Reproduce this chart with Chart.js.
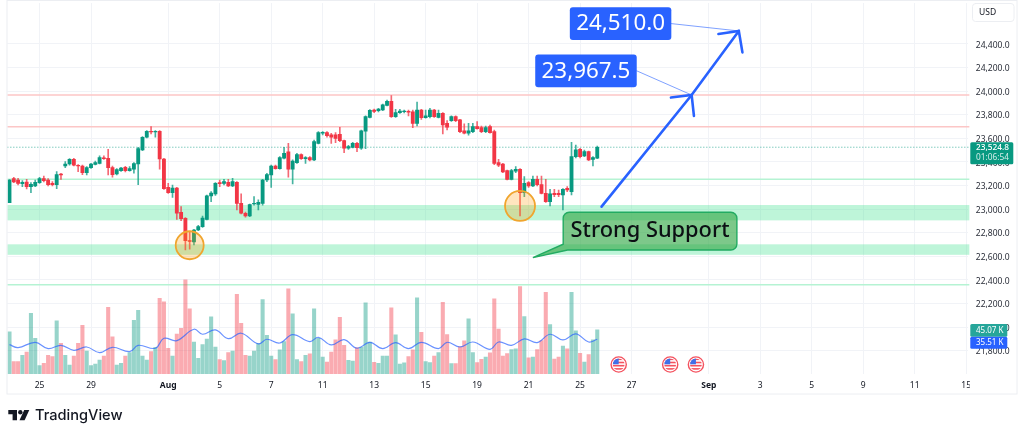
<!DOCTYPE html>
<html>
<head>
<meta charset="utf-8">
<script src="https://cdn.jsdelivr.net/npm/chart.js@4"></script>
<style>
html, body { margin: 0; padding: 0; background: #fff; overflow: hidden; }
canvas { display: block; }
</style>
</head>
<body>
<canvas id="chart" width="1024" height="437"></canvas>
<script>
// OHLC, one entry per candle
const opens = [23055,23259,23247,23216,23230,23191,23196,23225,23259,23247,23219,23208,23298,23366,23383,23422,23372,23366,23309,23352,23380,23388,23434,23431,23352,23298,23326,23355,23326,23338,23383,23502,23609,23660,23654,23660,23425,23185,23140,23179,22973,22922,22733,22722,22823,22852,22914,23112,23129,23225,23219,23227,23196,23227,23049,22965,22942,23044,23041,23049,23247,23290,23366,23343,23431,23485,23338,23394,23462,23428,23437,23417,23558,23643,23648,23629,23629,23634,23581,23516,23524,23558,23516,23660,23778,23840,23835,23840,23880,23914,23784,23818,23826,23829,23824,23727,23840,23776,23784,23840,23778,23812,23727,23750,23784,23756,23663,23643,23657,23699,23691,23657,23699,23657,23394,23383,23326,23253,23321,23338,23140,23225,23196,23253,23208,23134,23064,23134,23134,23120,23177,23148,23445,23507,23451,23487,23422,23431];
const highs = [23250,23270,23261,23242,23253,23225,23247,23270,23281,23259,23233,23318,23304,23403,23428,23431,23377,23374,23360,23388,23408,23451,23451,23507,23366,23343,23355,23363,23360,23394,23524,23615,23665,23699,23665,23665,23431,23219,23205,23185,23021,22928,22809,22829,22863,22942,23120,23148,23225,23247,23253,23253,23261,23233,23129,22976,23044,23106,23078,23253,23304,23374,23374,23445,23524,23558,23417,23473,23468,23445,23445,23586,23657,23657,23657,23643,23648,23694,23586,23541,23566,23566,23671,23790,23843,23849,23855,23891,23925,23962,23846,23846,23840,23840,23840,23908,23846,23840,23855,23846,23840,23818,23750,23790,23790,23761,23722,23727,23727,23742,23705,23705,23713,23671,23422,23388,23332,23338,23360,23343,23275,23233,23281,23281,23281,23253,23168,23168,23162,23174,23191,23566,23544,23516,23501,23493,23445,23535];
const lows = [23055,23225,23205,23191,23171,23140,23191,23219,23230,23196,23196,23174,23253,23352,23372,23366,23318,23292,23290,23346,23374,23383,23422,23290,23270,23290,23320,23315,23321,23304,23208,23496,23603,23637,23609,23338,23168,23134,23100,22914,22903,22654,22660,22696,22818,22846,22908,23064,23117,23191,23205,23191,23191,22993,22959,22931,22936,23033,22993,23033,23233,23185,23338,23338,23425,23270,23213,23388,23422,23388,23408,23411,23552,23629,23609,23558,23564,23572,23479,23507,23518,23487,23507,23513,23773,23818,23824,23835,23874,23778,23778,23812,23815,23790,23691,23705,23761,23770,23773,23778,23773,23637,23671,23744,23742,23648,23637,23626,23648,23677,23648,23648,23643,23377,23360,23309,23247,23247,23309,22942,23106,23185,23191,23196,23129,23058,23027,23106,23106,22993,23148,23120,23434,23434,23445,23411,23366,23428];
const closes = [23247,23230,23219,23227,23191,23211,23227,23259,23242,23208,23208,23292,23290,23383,23422,23372,23366,23309,23352,23383,23394,23437,23428,23352,23292,23335,23349,23326,23343,23386,23513,23609,23660,23654,23660,23425,23174,23140,23179,22965,22920,22733,22727,22823,22852,22925,23112,23137,23219,23216,23233,23196,23233,23049,22965,22942,23038,23049,23058,23247,23292,23366,23343,23437,23473,23338,23408,23462,23428,23437,23417,23572,23648,23651,23623,23609,23600,23581,23516,23530,23558,23521,23663,23784,23838,23829,23849,23883,23914,23784,23818,23832,23832,23821,23727,23840,23776,23790,23840,23784,23812,23713,23694,23784,23750,23657,23643,23663,23699,23682,23657,23691,23648,23388,23372,23315,23253,23326,23338,23140,23219,23196,23253,23208,23134,23064,23129,23123,23123,23168,23162,23445,23502,23445,23487,23417,23437,23524.8];

// volume in thousands
const volumes = [43.0,12.6,12.6,19.1,22.5,62.1,36.5,8.5,10.9,19.1,17.7,54.2,31.4,19.1,9.2,18.4,31.4,49.8,23.5,8.5,10.2,14.3,18.4,68.2,37.9,9.2,10.9,18.4,21.8,54.9,65.1,18.4,14.3,22.8,27.3,77.4,73.7,26.3,18.4,40.9,46.7,96.2,66.5,32.7,16.0,30.0,35.8,58.3,27.6,14.7,13.6,21.8,23.5,81.5,51.8,19.1,18.4,23.5,31.4,76.0,39.6,18.4,14.7,24.6,33.1,87.0,61.4,14.7,12.6,19.1,20.5,66.5,36.5,17.4,12.3,22.5,34.8,58.0,29.3,14.0,13.3,26.9,27.6,72.6,32.7,11.9,10.9,18.4,18.4,67.5,39.9,10.2,11.3,17.7,24.6,77.7,42.6,12.6,11.6,18.4,21.8,73.3,40.2,10.6,10.6,28.0,33.8,56.3,21.8,11.6,15.0,17.4,21.5,76.7,46.0,18.4,20.8,24.9,25.6,89.3,58.7,16.4,17.4,24.9,34.1,83.5,50.5,15.3,17.4,28.6,25.6,83.5,44.0,21.1,12.3,19.8,34.8,45.07];

// volume average, read at its turning points only
const maSlots = [0,2,6,9,12,15,18,21,24,28,30,34,36,39,43,45,48,51,54,58,60,63,66,70,72,75,78,81,84,87,90,93,96,100,102,105,108,112,114,117,120,123,126,129,132,135,137];
const maValues = [30.0,26.9,32.4,25.9,29.3,24.2,27.6,21.8,27.3,22.8,29.3,26.3,36.5,34.1,45.7,40.6,45.0,36.1,41.6,30.7,35.5,31.7,40.2,33.1,37.5,29.7,35.1,26.3,32.4,25.9,32.1,25.9,32.4,25.9,32.4,27.6,32.7,25.2,32.7,29.3,35.8,32.1,40.6,34.8,40.9,32.7,35.51];

// time axis
const totalSlots = 224;
const tickSlots = [7,19,37,49,61,73,85,97,109,121,133,145,163,175,187,199,211,223];
const tickNames = ['25','29','Aug','5','7','11','13','15','19','21','25','27','Sep','3','5','9','11','15'];

// price axis
const priceTicks = [24400,24200,24000,23800,23600,23400,23200,23000,22800,22600,22400,22200,22000,21800];

// drawn levels
const redLevels = [23967.5, 23699];
const greenLevels = [23253, 22360];
const lastPrice = 23524.8;
const bandTops = [23035, 22702];
const bandBottoms = [22905, 22613];

// circles on the two lows
const circleSlots = [42, 119];
const circlePrices = [22694, 23027];

// projection arrow and targets
const arrowStart = [138, 23021];
const targetSlots = [159, 170];
const targetPrices = [23967.5, 24510];
const supportTip = [122, 22589];
const eventSlots = [142, 154, 160];

const UP = '#089981';
const DOWN = '#f23645';
const BLUE = '#2962ff';
const FONT = '"Noto Sans", sans-serif';

const labels = [];
for (let i = 0; i < totalSlots; i++) {
    const t = tickSlots.indexOf(i);
    labels.push(t >= 0 ? tickNames[t] : '');
}

const isUp = closes.map((c, i) => c >= opens[i]);
const bodies = opens.map((o, i) => [o, closes[i]]);
const wicks = highs.map((h, i) => [lows[i], h]);
const maLine = labels.map(() => null);
maSlots.forEach((s, i) => { maLine[s] = maValues[i]; });

function fmtPrice(v) {
    return v.toLocaleString('en-US', { minimumFractionDigits: 1, maximumFractionDigits: 1 });
}

function box(ctx, x, y, w, h, r) {
    ctx.beginPath();
    ctx.roundRect(x, y, w, h, r);
}

function arrowHead(ctx, p, a, b) {
    ctx.beginPath();
    ctx.moveTo(p[0] + a[0], p[1] + a[1]);
    ctx.lineTo(p[0], p[1]);
    ctx.lineTo(p[0] + b[0], p[1] + b[1]);
    ctx.stroke();
}

function hLine(ctx, a, py) {
    ctx.beginPath();
    ctx.moveTo(a.left, py);
    ctx.lineTo(a.right + 1, py);
    ctx.stroke();
}

// bands and levels go under the candles
const underlay = {
    id: 'underlay',
    beforeDatasetsDraw(chart) {
        const { ctx, chartArea: a, scales: { y } } = chart;
        ctx.save();
        bandTops.forEach((top, i) => {
            ctx.fillStyle = 'rgba(76,228,150,0.36)';
            ctx.fillRect(a.left, y.getPixelForValue(top), a.width + 1, y.getPixelForValue(bandBottoms[i]) - y.getPixelForValue(top));
        });
        ctx.lineWidth = 1.5;
        ctx.strokeStyle = '#fcc6c6';
        redLevels.forEach(v => hLine(ctx, a, y.getPixelForValue(v)));
        ctx.strokeStyle = '#b5f3d3';
        greenLevels.forEach(v => hLine(ctx, a, y.getPixelForValue(v)));
        ctx.lineWidth = 1;
        ctx.strokeStyle = 'rgba(8,153,129,0.75)';
        ctx.setLineDash([1, 2]);
        hLine(ctx, a, y.getPixelForValue(lastPrice));
        ctx.restore();
    }
};

function flag(ctx, cx, cy) {
    ctx.save();
    ctx.beginPath();
    ctx.arc(cx, cy, 7.6, 0, Math.PI * 2);
    ctx.fillStyle = '#fff';
    ctx.fill();
    ctx.strokeStyle = '#f4525f';
    ctx.lineWidth = 1.4;
    ctx.stroke();
    ctx.beginPath();
    ctx.arc(cx, cy, 5.9, 0, Math.PI * 2);
    ctx.clip();
    ctx.fillStyle = '#f4525f';
    for (let k = 0; k < 4; k++) ctx.fillRect(cx - 7, cy - 6 + k * 3.2, 14, 1.6);
    ctx.fillStyle = '#3f6fe8';
    ctx.fillRect(cx - 7, cy - 7, 7, 6.8);
    ctx.restore();
}

// everything drawn by hand on top of the chart
const overlay = {
    id: 'overlay',
    afterDraw(chart) {
        const { ctx, chartArea: a, scales: { x, y } } = chart;
        ctx.save();

        // circles
        circleSlots.forEach((s, i) => {
            ctx.beginPath();
            ctx.arc(x.getPixelForValue(s), y.getPixelForValue(circlePrices[i]), i === 0 ? 14 : 15, 0, Math.PI * 2);
            ctx.fillStyle = 'rgba(255,152,0,0.25)';
            ctx.fill();
            ctx.strokeStyle = '#f0a52e';
            ctx.lineWidth = 1.8;
            ctx.stroke();
        });

        // arrow
        const pts = [[x.getPixelForValue(arrowStart[0]), y.getPixelForValue(arrowStart[1])]];
        targetSlots.forEach((s, i) => pts.push([x.getPixelForValue(s), y.getPixelForValue(targetPrices[i])]));
        ctx.strokeStyle = BLUE;
        ctx.lineWidth = 2.6;
        ctx.lineCap = 'round';
        ctx.beginPath();
        ctx.moveTo(pts[0][0], pts[0][1]);
        ctx.lineTo(pts[1][0], pts[1][1]);
        ctx.lineTo(pts[2][0], pts[2][1]);
        ctx.stroke();
        arrowHead(ctx, pts[1], [-20.7, 2.6], [2.3, 21]);
        arrowHead(ctx, pts[2], [-20.4, 3], [3.6, 21.4]);

        // target labels
        const boxes = [[-156.4, -40.5], [-169, -23.7]];
        const boxW = 101.5, boxH = 32.7;
        ctx.textAlign = 'center';
        ctx.textBaseline = 'middle';
        boxes.forEach((b, i) => {
            const p = pts[i + 1];
            const bx = p[0] + b[0], by = p[1] + b[1];
            ctx.strokeStyle = 'rgba(41,98,255,0.6)';
            ctx.lineWidth = 1;
            ctx.beginPath();
            ctx.moveTo(bx + boxW, by + boxH / 2);
            ctx.lineTo(p[0], p[1]);
            ctx.stroke();
            ctx.fillStyle = BLUE;
            box(ctx, bx, by, boxW, boxH, 3);
            ctx.fill();
            ctx.fillStyle = '#fff';
            ctx.font = '22.4px ' + FONT;
            ctx.fillText(fmtPrice(targetPrices[i]), bx + boxW / 2, by + boxH / 2 + 0.5);
        });

        // strong support callout
        const tx = x.getPixelForValue(supportTip[0]), ty = y.getPixelForValue(supportTip[1]);
        const sx = tx + 30.3, sy = ty - 45.4, sw = 173.7, sh = 37.7, r = 6;
        ctx.beginPath();
        ctx.moveTo(sx + r, sy);
        ctx.lineTo(sx + sw - r, sy);
        ctx.arcTo(sx + sw, sy, sx + sw, sy + r, r);
        ctx.lineTo(sx + sw, sy + sh - r);
        ctx.arcTo(sx + sw, sy + sh, sx + sw - r, sy + sh, r);
        ctx.lineTo(sx + 4.4, sy + sh);
        ctx.lineTo(tx, ty);
        ctx.lineTo(sx, sy + 32);
        ctx.lineTo(sx, sy + r);
        ctx.arcTo(sx, sy, sx + r, sy, r);
        ctx.closePath();
        ctx.fillStyle = 'rgba(56,170,75,0.65)';
        ctx.fill();
        ctx.strokeStyle = '#22ab62';
        ctx.lineWidth = 1.4;
        ctx.stroke();
        ctx.fillStyle = '#0c0f14';
        ctx.font = '500 21.8px ' + FONT;
        ctx.fillText('Strong Support', sx + sw / 2, sy + sh / 2 - 0.5);

        // event flags
        eventSlots.forEach(s => flag(ctx, x.getPixelForValue(s), a.bottom - 9.5));

        // cut the last time label at the price scale
        ctx.fillStyle = '#fff';
        ctx.fillRect(a.right + 1.5, a.bottom + 1, 48, 18);

        // frame
        ctx.strokeStyle = '#eceef2';
        ctx.lineWidth = 1;
        ctx.strokeRect(7, 0.5, 1010, 393.5);

        // USD box
        ctx.fillStyle = '#fff';
        box(ctx, 972.5, 3.5, 41.5, 18, 3);
        ctx.fill();
        ctx.strokeStyle = '#eceef2';
        ctx.stroke();
        ctx.fillStyle = '#131722';
        ctx.textAlign = 'left';
        ctx.font = '8.5px ' + FONT;
        ctx.fillText('USD', 979, 12.8);

        // last price tag
        ctx.fillStyle = UP;
        box(ctx, 970.3, 142.3, 43, 22, 1.5);
        ctx.fill();
        ctx.fillStyle = '#fff';
        ctx.font = '500 8.3px ' + FONT;
        ctx.fillText(fmtPrice(lastPrice), 976, 147.8);
        ctx.fillStyle = 'rgba(255,255,255,0.82)';
        ctx.font = '8.3px ' + FONT;
        ctx.fillText('01:06:54', 976, 157.8);

        // volume tags
        ctx.fillStyle = '#26a69a';
        box(ctx, 970.3, 324, 37, 12.7, 1.5);
        ctx.fill();
        ctx.fillStyle = BLUE;
        box(ctx, 970.3, 336.7, 37, 12, 1.5);
        ctx.fill();
        ctx.fillStyle = '#fff';
        ctx.font = '8px ' + FONT;
        ctx.fillText(volumes[volumes.length - 1].toFixed(2) + ' K', 976, 330.6);
        ctx.fillText(maValues[maValues.length - 1].toFixed(2) + ' K', 976, 342.8);

        // TradingView logo
        ctx.fillStyle = '#131722';
        ctx.beginPath();
        ctx.moveTo(8.3, 410); ctx.lineTo(17, 410); ctx.lineTo(17, 420.3); ctx.lineTo(12.6, 420.3);
        ctx.lineTo(12.6, 414.3); ctx.lineTo(8.3, 414.3); ctx.closePath();
        ctx.fill();
        ctx.beginPath();
        ctx.arc(20.3, 412.2, 2.2, 0, Math.PI * 2);
        ctx.fill();
        ctx.beginPath();
        ctx.moveTo(24.2, 410); ctx.lineTo(29.3, 410); ctx.lineTo(24.6, 420.3); ctx.lineTo(19.5, 420.3);
        ctx.closePath();
        ctx.fill();
        ctx.font = '500 14.6px Inter, ' + FONT;
        ctx.fillText('TradingView', 35, 416);

        ctx.restore();
    }
};

new Chart(document.getElementById('chart'), {
    type: 'bar',
    data: {
        labels: labels,
        datasets: [
            {
                label: 'wick',
                data: wicks,
                yAxisID: 'y',
                grouped: false,
                barThickness: 1,
                backgroundColor: isUp.map(u => u ? 'rgba(8,153,129,0.75)' : 'rgba(242,54,69,0.75)'),
                order: 2
            },
            {
                label: 'body',
                data: bodies,
                yAxisID: 'y',
                grouped: false,
                barThickness: 3.2,
                backgroundColor: isUp.map(u => u ? UP : DOWN),
                order: 1
            },
            {
                label: 'volume',
                data: volumes,
                yAxisID: 'vol',
                grouped: false,
                barThickness: 3.4,
                backgroundColor: isUp.map(u => u ? 'rgba(8,153,129,0.42)' : 'rgba(242,54,69,0.42)'),
                order: 3
            },
            {
                type: 'line',
                label: 'volume ma',
                data: maLine,
                yAxisID: 'vol',
                spanGaps: true,
                tension: 0.4,
                pointRadius: 0,
                borderWidth: 1.2,
                borderColor: 'rgba(41,98,255,0.7)',
                order: 0
            }
        ]
    },
    options: {
        responsive: false,
        devicePixelRatio: 1,
        animation: false,
        layout: { padding: { left: 7.35, top: 3, right: 0, bottom: 43 } },
        plugins: { legend: { display: false }, tooltip: { enabled: false } },
        scales: {
            x: {
                offset: true,
                border: { display: false },
                grid: { offset: false, color: '#f1f3f7', drawTicks: false },
                afterBuildTicks(scale) {
                    scale.ticks = scale.ticks.filter(t => labels[t.value] !== '');
                },
                afterFit(scale) {
                    scale.height = 20;
                    scale.paddingLeft = 0;
                    scale.paddingRight = 0;
                },
                ticks: {
                    autoSkip: false,
                    maxRotation: 0,
                    padding: 6,
                    color: '#131722',
                    font: ctx => ({
                        family: FONT,
                        size: 8.5,
                        weight: ctx.tick && (ctx.tick.label === 'Aug' || ctx.tick.label === 'Sep') ? 'bold' : 'normal'
                    }),
                    callback(value) { return labels[value]; }
                }
            },
            y: {
                position: 'right',
                min: 21603,
                max: 24747,
                border: { display: false },
                grid: { color: '#f1f3f7', drawTicks: false },
                afterBuildTicks(scale) {
                    scale.ticks = priceTicks.map(v => ({ value: v }));
                },
                afterFit(scale) {
                    scale.width = 55.65;
                    scale.paddingTop = 0;
                    scale.paddingBottom = 0;
                },
                ticks: {
                    padding: 7.5,
                    labelOffset: 1.2,
                    color: '#2a2e39',
                    font: { family: FONT, size: 8.5 },
                    callback(value) { return fmtPrice(value); }
                }
            },
            vol: {
                display: false,
                position: 'left',
                min: 0,
                max: 379
            }
        }
    },
    plugins: [underlay, overlay]
});
</script>
</body>
</html>
